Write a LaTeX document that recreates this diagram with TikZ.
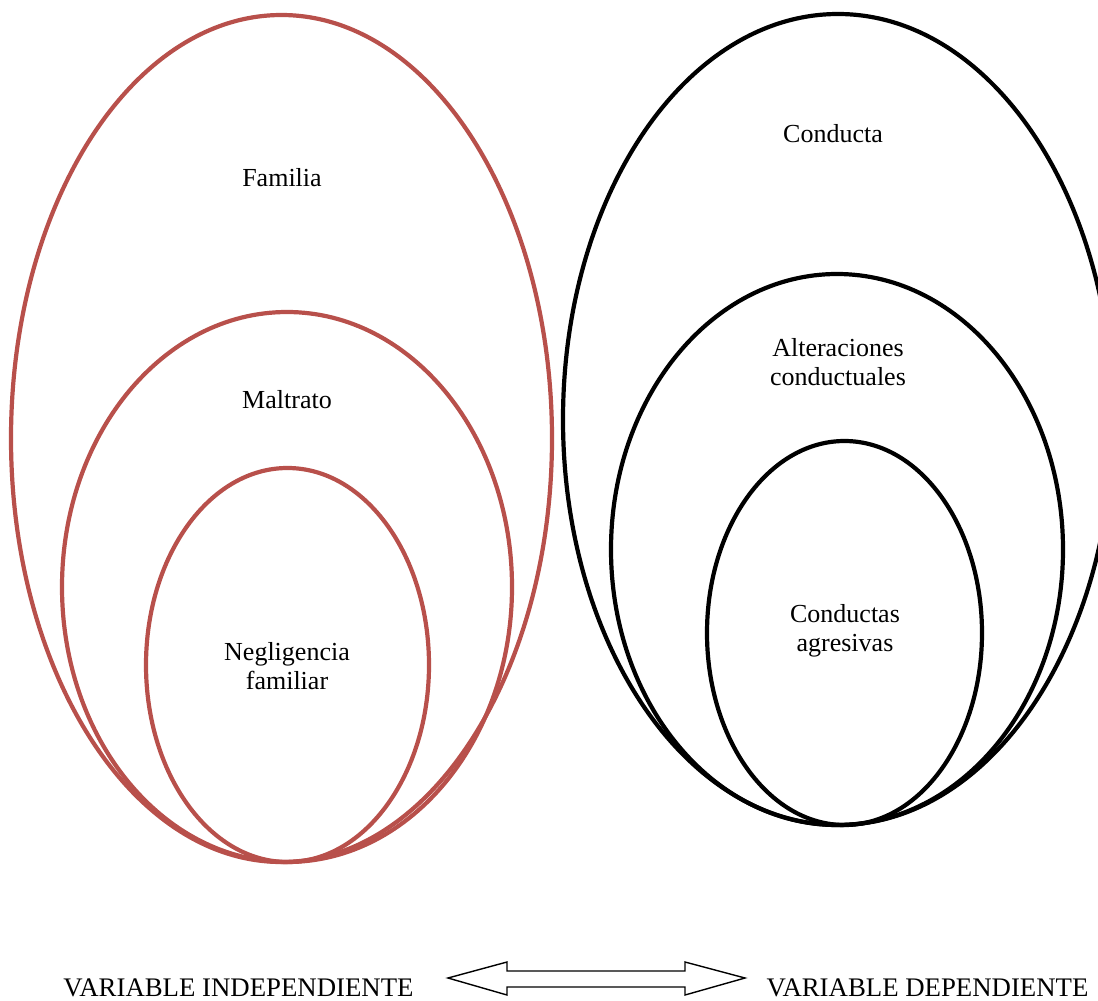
\documentclass[tikz,border=0pt]{standalone}
\usepackage{fontspec}
\setmainfont{Liberation Serif}
\definecolor{redline}{HTML}{B8504B}
\begin{document}
\begin{tikzpicture}[x=1pt,y=-1pt,
  redell/.style={draw=redline,line width=4.2pt},
  blkell/.style={draw=black,line width=4.2pt},
  lbl/.style={font=\fontsize{26}{28.5}\selectfont,align=center,inner sep=0pt},
  btm/.style={font=\fontsize{26.8}{29}\selectfont,inner sep=0pt,anchor=base}]
\useasboundingbox (0,0) rectangle (1098,1001);
% left ellipses
\draw[redell] (281.5,438.5) ellipse [x radius=270.5pt, y radius=423.5pt];
\draw[redell] (287,587) ellipse [x radius=225pt, y radius=275pt];
\draw[redell] (287.5,665) ellipse [x radius=141.5pt, y radius=197pt];
% right ellipses
\draw[blkell] (838,419.5) ellipse [x radius=275pt, y radius=405.5pt];
\draw[blkell] (837,549.5) ellipse [x radius=226pt, y radius=275.5pt];
\draw[blkell] (844.5,633) ellipse [x radius=137.5pt, y radius=192pt];
% labels
\node[lbl] (familia) at (282,178) {Familia};
\node[lbl] (maltrato) at (287,400) {Maltrato};
\node[lbl] (negl) at (287,666) {Negligencia\\familiar};
\node[lbl] (conducta) at (833,134) {Conducta};
\node[lbl] (alter) at (838,362) {Alteraciones\\conductuales};
\node[lbl] (agres) at (845,631) {Conductas\\agresivas};
\node[btm] (vi) at (238.5,996) {VARIABLE INDEPENDIENTE};
\node[btm] (vd) at (927.5,996) {VARIABLE DEPENDIENTE};
% double arrow
\draw[line width=1.4pt,line join=miter]
  (448,978) -- (507,962) -- (507,971) -- (685,971) -- (685,962) -- (745,978)
  -- (685,995) -- (685,987) -- (507,987) -- (507,995) -- cycle;
\end{tikzpicture}
\end{document}
